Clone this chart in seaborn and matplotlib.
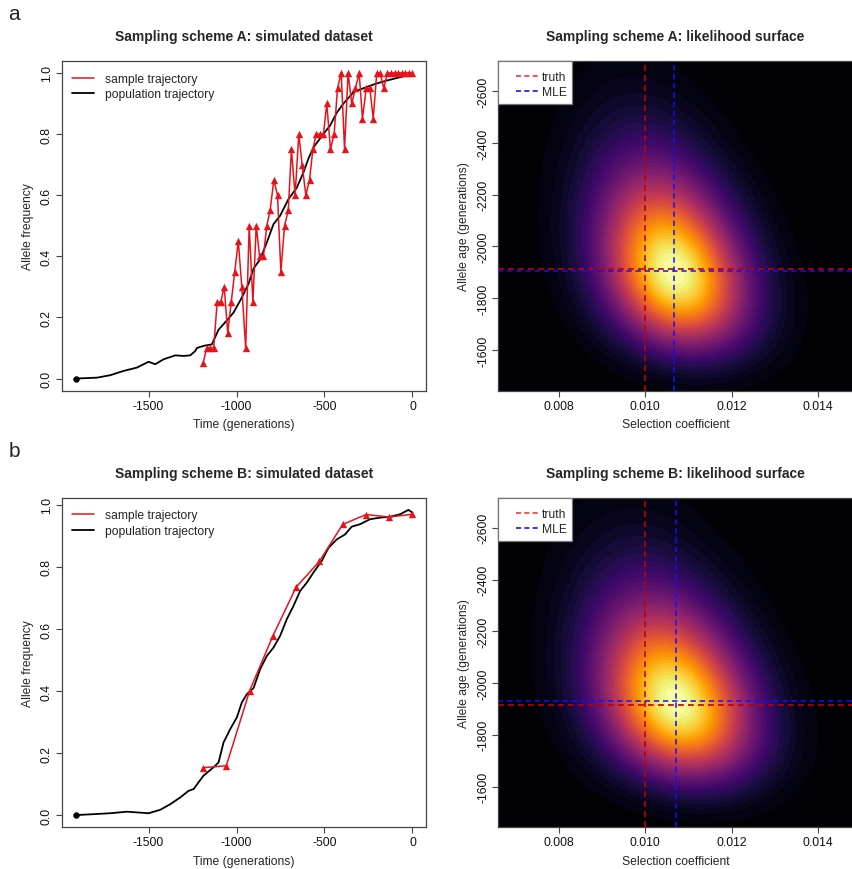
import numpy as np
import matplotlib
matplotlib.use("Agg")
import matplotlib.pyplot as plt
from matplotlib.lines import Line2D
from matplotlib.patches import Rectangle
import seaborn as sns

# ---------------- data ----------------
# Scheme A: sample trajectory
sampA_t = [-1190, -1170, -1150, -1130, -1110, -1090, -1070, -1050, -1030, -1010,
           -990, -970, -948, -928, -907, -888, -869, -847, -828, -809,
           -788, -767, -748, -727, -706, -688, -667, -646, -627, -606,
           -585, -566, -547, -527, -506, -487, -466, -445, -426, -405,
           -386, -366, -345, -324, -303, -284, -263, -242, -223, -203,
           -184, -163, -142, -122, -102, -81, -61, -41, -20, 0]
sampA_f = [0.05, 0.10, 0.10, 0.10, 0.25, 0.25, 0.30, 0.15, 0.25, 0.35,
           0.45, 0.30, 0.10, 0.50, 0.25, 0.50, 0.40, 0.40, 0.50, 0.55,
           0.65, 0.60, 0.35, 0.50, 0.55, 0.75, 0.60, 0.80, 0.70, 0.60,
           0.65, 0.75, 0.80, 0.80, 0.80, 0.90, 0.75, 0.80, 0.95, 1.00,
           0.75, 1.00, 0.90, 0.95, 1.00, 0.85, 0.95, 0.95, 0.85, 1.00,
           1.00, 0.95, 1.00, 1.00, 1.00, 1.00, 1.00, 1.00, 1.00, 1.00]
# Scheme A: population trajectory
popA_t = [-1915, -1793, -1718, -1642, -1566, -1500, -1462, -1415, -1348, -1301,
          -1263, -1235, -1225, -1187, -1140, -1102, -1055, -1017, -970, -932, -903,
          -866, -828, -790, -752, -705, -657, -619, -591, -562, -506,
          -468, -430, -392, -335, -278, -212, -146, -70, 0]
popA_f = [0.0, 0.003, 0.011, 0.025, 0.036, 0.055, 0.047, 0.063, 0.076, 0.074,
          0.076, 0.090, 0.100, 0.107, 0.112, 0.160, 0.190, 0.216, 0.265, 0.310, 0.360,
          0.390, 0.445, 0.505, 0.533, 0.587, 0.625, 0.675, 0.720, 0.757, 0.800,
          0.828, 0.870, 0.900, 0.937, 0.950, 0.964, 0.975, 0.986, 0.997]

# Scheme B: sample trajectory
sampB_t = [-1190, -1058, -926, -794, -661, -529, -397, -264, -132, 0]
sampB_f = [0.153, 0.159, 0.400, 0.577, 0.735, 0.818, 0.937, 0.969, 0.961, 0.970]
# Scheme B: population trajectory
popB_t = [-1915, -1813, -1718, -1623, -1500, -1434, -1377, -1320, -1273, -1244,
          -1188, -1131, -1102, -1074, -1036, -998, -970, -941, -903, -866,
          -828, -790, -752, -714, -676, -638, -600, -563, -515, -477,
          -430, -383, -345, -297, -241, -184, -127, -70, -23, 0]
popB_f = [0.0, 0.003, 0.006, 0.011, 0.006, 0.017, 0.035, 0.057, 0.078, 0.084,
          0.127, 0.154, 0.170, 0.234, 0.277, 0.315, 0.363, 0.390, 0.410, 0.470,
          0.513, 0.540, 0.578, 0.632, 0.675, 0.723, 0.750, 0.782, 0.820, 0.862,
          0.889, 0.905, 0.930, 0.938, 0.954, 0.959, 0.962, 0.970, 0.984, 0.975]

# truth / MLE  (selection coefficient, allele age)
truth_s = [0.0100, 0.0100]
truth_age = [-1913, -1915]
mle_s = [0.01066, 0.01070]
mle_age = [-1904, -1930]

# likelihood-surface shape parameters (sd in s, tilt, skew scale, sd in age)
surf_sig_s = [0.00108, 0.00115]
surf_beta = [1.3e-6, 1.35e-6]
surf_lam = [1045.0, 1045.0]
surf_sig_a = [225.0, 224.0]

titles_left = ["Sampling scheme A: simulated dataset", "Sampling scheme B: simulated dataset"]
titles_right = ["Sampling scheme A: likelihood surface", "Sampling scheme B: likelihood surface"]
panel_letters = ["a", "b"]

# ---------------- styling ----------------
sns.set_style("ticks")
plt.rcParams['font.family'] = ['Liberation Sans', 'DejaVu Sans']
plt.rcParams['axes.unicode_minus'] = False
FS = 8.7
W, H = 853, 870
fig = plt.figure(figsize=(W / 100, H / 100), dpi=100)

def px_axes(l, t, r, b):
    return fig.add_axes([l / W, 1 - b / H, (r - l) / W, (b - t) / H])

SPINE = "#444444"

def style_axes(ax):
    for sp in ax.spines.values():
        sp.set_visible(True)
        sp.set_color(SPINE)
        sp.set_linewidth(0.9)
    ax.tick_params(direction='out', length=4, width=0.8, color=SPINE,
                   labelsize=FS, pad=2.5, labelcolor='#111111')
    plt.setp(ax.get_yticklabels(), rotation=90, va='center')

red_truth = "#c00000"
RL, RR = 498.5, 852.7

rows = [
    (sampA_t, sampA_f, popA_t, popA_f),
    (sampB_t, sampB_f, popB_t, popB_f),
]
row_px = [(62.3, 391.5), (498.8, 828.2)]

for i, (st, sf, pt, pf) in enumerate(rows):
    top, bot = row_px[i]
    hgt = bot - top
    # --- left: trajectories
    axL = px_axes(62, top, 426, bot)
    sns.lineplot(x=pt, y=pf, ax=axL, color='black', lw=1.3, estimator=None, sort=False)
    sns.scatterplot(x=[pt[0]], y=[pf[0]], ax=axL, color='black', s=18, marker='o',
                    edgecolor='black', zorder=5)
    sns.lineplot(x=st, y=sf, ax=axL, color='#e8121b', lw=1.1, estimator=None, sort=False)
    sns.scatterplot(x=st, y=sf, ax=axL, color='#e8121b', marker='^', s=28,
                    edgecolor='#e8121b', linewidth=0, zorder=4)
    axL.set_xlim(-1992, 77)
    ymax = 1.038 if i == 0 else 1.023
    axL.set_ylim(-0.039, ymax)
    axL.set_xticks([-1500, -1000, -500, 0])
    axL.set_xticklabels(["-1500", "-1000", "-500", "0"])
    axL.set_yticks([0.0, 0.2, 0.4, 0.6, 0.8, 1.0])
    axL.set_yticklabels(["0.0", "0.2", "0.4", "0.6", "0.8", "1.0"])
    axL.set_xlabel("Time (generations)", fontsize=FS, labelpad=5)
    axL.set_ylabel("Allele frequency", fontsize=FS, labelpad=5)
    style_axes(axL)
    handles = [Line2D([], [], color='#e8121b', lw=1.1),
               Line2D([], [], color='black', lw=1.3)]
    axL.legend(handles, ["sample trajectory", "population trajectory"], loc='upper left',
               bbox_to_anchor=((72 - 62) / 364, 1 - 11.5 / hgt),
               frameon=False, fontsize=FS, handlelength=1.8, handletextpad=0.95,
               borderaxespad=0.0, borderpad=0.0, labelspacing=0.3)
    fig.text((62 + 426) / 2 / W, 1 - (top - 25) / H, titles_left[i], ha='center',
             va='center', fontsize=10, fontweight='bold')

    # --- right: likelihood surface
    axR = px_axes(RL, top, RR, bot)
    s_grid = np.linspace(0.0066, 0.0148, 400)
    a_grid = np.linspace(-2716, -1443, 400)
    S, A = np.meshgrid(s_grid, a_grid)
    v = A - mle_age[i]
    inner = np.clip(1 - v / surf_lam[i], 1e-6, None)
    w = surf_lam[i] * np.log(inner) / surf_sig_a[i]
    u = (S - mle_s[i] - surf_beta[i] * v) / surf_sig_s[i]
    L = np.exp(-0.5 * (u ** 2 + w ** 2))
    axR.contourf(S, A, L, levels=np.linspace(0, 1.0001, 48), cmap='inferno')
    axR.set_xlim(0.0066, 0.0148)
    axR.set_ylim(-1443, -2716)
    axR.axvline(truth_s[i], color=red_truth, ls=(0, (3.5, 2.5)), lw=1.2)
    axR.axhline(truth_age[i], color=red_truth, ls=(0, (3.5, 2.5)), lw=1.2)
    axR.axvline(mle_s[i], color='#1010ff', ls=(0, (3.5, 2.5)), lw=1.1)
    axR.axhline(mle_age[i], color='#1010ff', ls=(0, (3.5, 2.5)), lw=1.1)
    axR.set_xticks([0.008, 0.010, 0.012, 0.014])
    axR.set_xticklabels(["0.008", "0.010", "0.012", "0.014"])
    axR.set_yticks([-2600, -2400, -2200, -2000, -1800, -1600])
    axR.set_yticklabels(["-2600", "-2400", "-2200", "-2000", "-1800", "-1600"])
    axR.set_xlabel("Selection coefficient", fontsize=FS, labelpad=5)
    axR.set_ylabel("Allele age (generations)", fontsize=FS, labelpad=5.5)
    style_axes(axR)
    # legend box
    wid = RR - RL
    axR.add_patch(Rectangle((0, 1 - 43 / hgt), 74 / wid, 43 / hgt, transform=axR.transAxes,
                            facecolor='white', edgecolor='#777777', lw=0.9, zorder=5,
                            clip_on=False))
    handlesR = [Line2D([], [], color='#ff3030', lw=1.2, ls=(0, (3, 2))),
                Line2D([], [], color='#1010ff', lw=1.2, ls=(0, (3, 2)))]
    leg = axR.legend(handlesR, ["truth", "MLE"], loc='upper left',
                     bbox_to_anchor=((516 - RL) / wid, 1 - 10 / hgt), frameon=False,
                     fontsize=FS, handlelength=1.8, handletextpad=0.35,
                     borderaxespad=0.0, borderpad=0.0, labelspacing=0.25)
    leg.set_zorder(6)
    fig.text((RL + RR) / 2 / W, 1 - (top - 25) / H, titles_right[i], ha='center',
             va='center', fontsize=10, fontweight='bold')

    fig.text(14 / W, 1 - (15 + (top - 62.3)) / H, panel_letters[i], ha='center',
             va='center', fontsize=15)

fig.savefig("out.png", dpi=100)
